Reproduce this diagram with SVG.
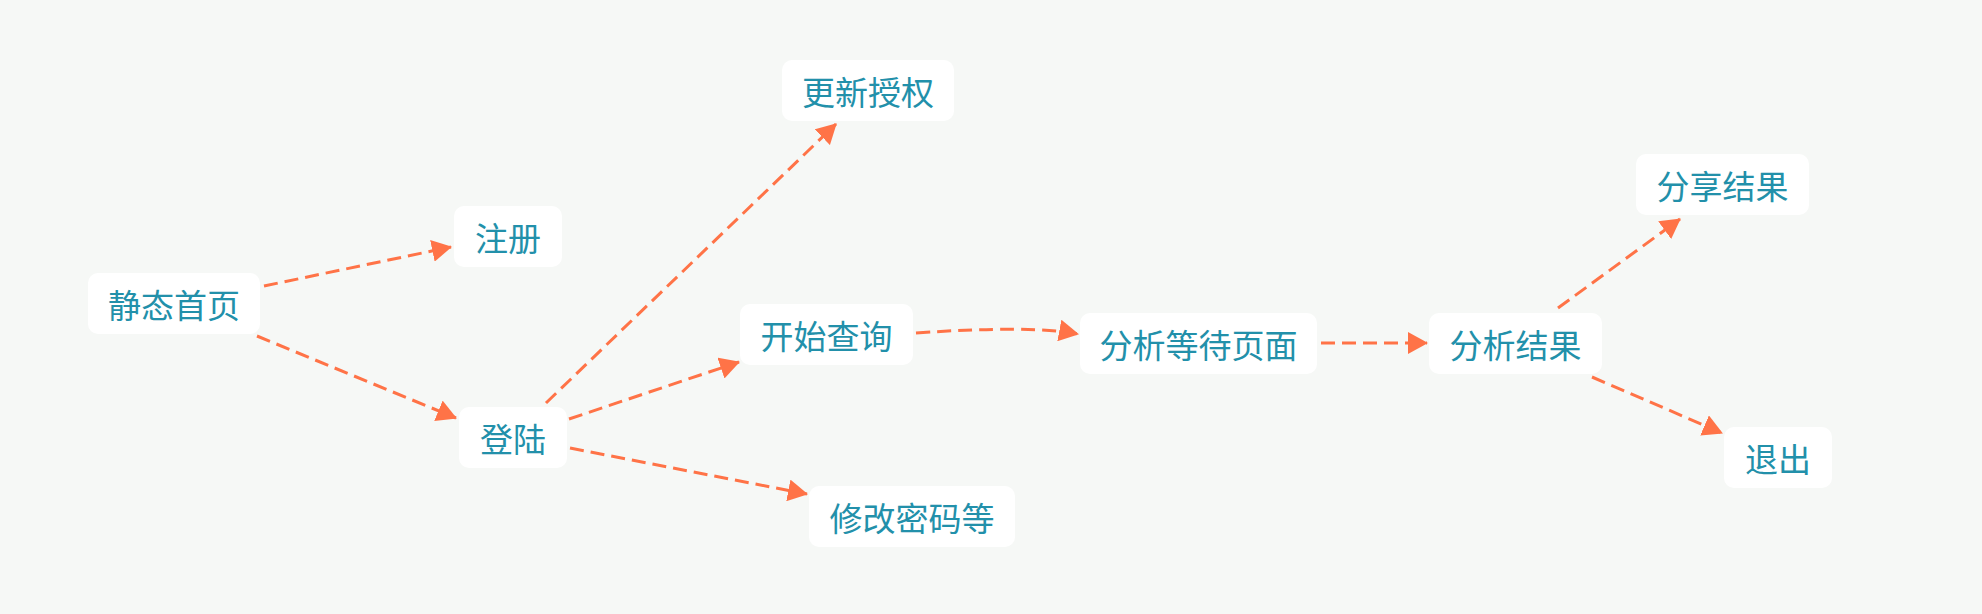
<svg xmlns="http://www.w3.org/2000/svg" width="1982" height="614" viewBox="0 0 1982 614">
<style>
.box{fill:#ffffff;}
.lbl{font-family:"Noto Sans CJK SC","Noto Sans",sans-serif;font-size:33px;fill:#2290aa;text-anchor:middle;dominant-baseline:central;}
.edge{fill:none;stroke:#ff7347;stroke-width:3;stroke-dasharray:14 7;marker-end:url(#arr);}
</style>
<defs>
<marker id="arr" markerUnits="userSpaceOnUse" markerWidth="21" markerHeight="22" viewBox="0 0 21 22" refX="19" refY="11" orient="auto">
<path d="M0,0 L20,11 L0,22 Z" fill="#ff7347"/>
</marker>
</defs>
<rect width="1982" height="614" fill="#f6f8f6"/>
<g id="connectors">
<path class="edge" d="M264,286 L451,247"/>
<path class="edge" d="M257,336 L456,418"/>
<path class="edge" d="M546,403 L836,124"/>
<path class="edge" d="M569,419 L739,362"/>
<path class="edge" d="M570,448 L807,494"/>
<path class="edge" d="M916,333 Q1030,325 1078,334"/>
<path class="edge" d="M1321,343 L1427,343"/>
<path class="edge" d="M1558,308 L1680,219"/>
<path class="edge" d="M1592,377 L1722,433"/>
</g>
<g id="n-home"><rect class="box" x="88" y="273" width="172" height="61" rx="10"/><text class="lbl" x="174" y="303.5">静态首页</text></g>
<g id="n-register"><rect class="box" x="454" y="206" width="108" height="61" rx="10"/><text class="lbl" x="508" y="236.5">注册</text></g>
<g id="n-login"><rect class="box" x="459" y="407" width="108" height="61" rx="10"/><text class="lbl" x="513" y="437.5">登陆</text></g>
<g id="n-auth"><rect class="box" x="782" y="60" width="172" height="61" rx="10"/><text class="lbl" x="868" y="90.5">更新授权</text></g>
<g id="n-query"><rect class="box" x="740" y="304" width="173" height="61" rx="10"/><text class="lbl" x="826.5" y="334.5">开始查询</text></g>
<g id="n-password"><rect class="box" x="809" y="486" width="206" height="61" rx="10"/><text class="lbl" x="912" y="516.5">修改密码等</text></g>
<g id="n-wait"><rect class="box" x="1080" y="313" width="237" height="61" rx="10"/><text class="lbl" x="1198.5" y="343.5">分析等待页面</text></g>
<g id="n-result"><rect class="box" x="1429" y="313" width="173" height="61" rx="10"/><text class="lbl" x="1515.5" y="343.5">分析结果</text></g>
<g id="n-share"><rect class="box" x="1636" y="154" width="173" height="61" rx="10"/><text class="lbl" x="1722.5" y="184.5">分享结果</text></g>
<g id="n-exit"><rect class="box" x="1724" y="427" width="108" height="61" rx="10"/><text class="lbl" x="1778" y="457.5">退出</text></g>
</svg>
